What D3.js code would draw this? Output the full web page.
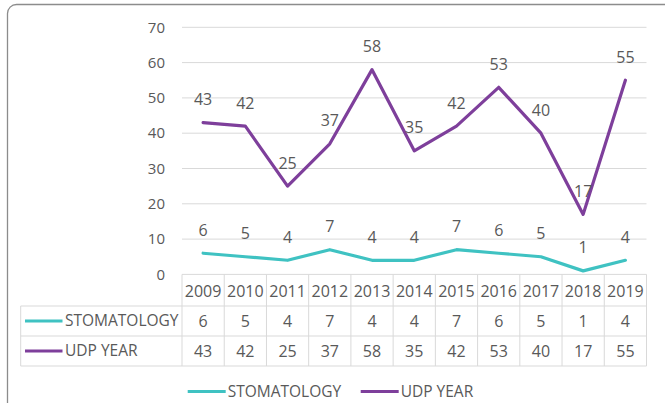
<!DOCTYPE html>
<html>
<head>
<meta charset="utf-8">
<script src="https://cdn.jsdelivr.net/npm/d3@7"></script>
<style>
  body { margin: 0; background: #fff; }
  svg text { font-family: "Open Sans", sans-serif; fill: #595959; }
</style>
</head>
<body>
<div id="vis"></div>
<script>
// chart data
var years = ["2009", "2010", "2011", "2012", "2013", "2014", "2015", "2016", "2017", "2018", "2019"];
var stomatology = [6, 5, 4, 7, 4, 4, 7, 6, 5, 1, 4];
var udpYear = [43, 42, 25, 37, 58, 35, 42, 53, 40, 17, 55];
var yTicks = [0, 10, 20, 30, 40, 50, 60, 70];
var seriesNames = ["STOMATOLOGY", "UDP YEAR"];

const COLOR_STOMA = "#3fc2c2";
const COLOR_UDP = "#7e3f9b";
const GRID = "#d9d9d9";

var W = 665, H = 403;
var svg = d3.select("#vis").append("svg").attr("width", W).attr("height", H);

// outer frame of the chart area
svg.append("rect")
  .attr("x", 7.5).attr("y", 4.5)
  .attr("width", 720).attr("height", 460)
  .attr("rx", 9).attr("ry", 9)
  .attr("fill", "none").attr("stroke", "#8c8c8c").attr("stroke-width", 1.3);

var plotLeft = 182, plotRight = 646.5, plotTop = 27.3, plotBottom = 274.4;

var x = d3.scaleBand().domain(years).range([plotLeft, plotRight]);
var y = d3.scaleLinear().domain([0, 70]).range([plotBottom, plotTop]);

// gridlines
svg.append("g").selectAll("line").data(yTicks.filter(function(d){ return d > 0; }))
  .enter().append("line")
  .attr("x1", plotLeft).attr("x2", plotRight)
  .attr("y1", function(d){ return y(d); }).attr("y2", function(d){ return y(d); })
  .attr("stroke", GRID).attr("stroke-width", 1);

// y axis labels
svg.append("g").selectAll("text").data(yTicks)
  .enter().append("text")
  .attr("x", 165).attr("y", function(d){ return y(d); })
  .attr("dy", "0.35em")
  .attr("text-anchor", "end")
  .style("font-size", "15px")
  .text(function(d){ return d; });

// lines
var series = [
  { name: seriesNames[0], values: stomatology, color: COLOR_STOMA },
  { name: seriesNames[1], values: udpYear, color: COLOR_UDP }
];
var line = d3.line()
  .x(function(d, i){ return x(years[i]) + x.bandwidth() / 2; })
  .y(function(d){ return y(d); });

series.forEach(function(s){
  svg.append("path").datum(s.values)
    .attr("d", line)
    .attr("fill", "none")
    .attr("stroke", s.color)
    .attr("stroke-width", 3.2)
    .attr("stroke-linejoin", "round")
    .attr("stroke-linecap", "round");
  svg.append("g").selectAll("text").data(s.values)
    .enter().append("text")
    .attr("x", function(d, i){ return x(years[i]) + x.bandwidth() / 2; })
    .attr("y", function(d){ return y(d) - 23; })
    .attr("dy", "0.35em")
    .attr("text-anchor", "middle")
    .style("font-size", "16px")
    .text(function(d){ return d; });
});

// data table
var tableLeft = 20.7;
var rowY = [274.4, 306, 336, 366];
var tg = svg.append("g");
// horizontal rules
tg.append("line").attr("x1", plotLeft).attr("x2", plotRight).attr("y1", rowY[0]).attr("y2", rowY[0])
  .attr("stroke", GRID);
[1, 2, 3].forEach(function(r){
  tg.append("line").attr("x1", tableLeft).attr("x2", plotRight).attr("y1", rowY[r]).attr("y2", rowY[r])
    .attr("stroke", GRID);
});
// vertical rules
tg.append("line").attr("x1", tableLeft).attr("x2", tableLeft).attr("y1", rowY[1]).attr("y2", rowY[3])
  .attr("stroke", GRID);
years.forEach(function(yr){
  tg.append("line").attr("x1", x(yr)).attr("x2", x(yr)).attr("y1", rowY[0]).attr("y2", rowY[3])
    .attr("stroke", GRID);
});
tg.append("line").attr("x1", plotRight).attr("x2", plotRight).attr("y1", rowY[0]).attr("y2", rowY[3])
  .attr("stroke", GRID);

// header row: years
tg.selectAll("text.year").data(years)
  .enter().append("text").attr("class", "year")
  .attr("x", function(d){ return x(d) + x.bandwidth() / 2; })
  .attr("y", (rowY[0] + rowY[1]) / 2 + 1)
  .attr("dy", "0.35em")
  .attr("text-anchor", "middle")
  .style("font-size", "16px")
  .text(function(d){ return d; });

// value rows with legend keys
series.forEach(function(s, r){
  var cy = (rowY[r + 1] + rowY[r + 2]) / 2;
  tg.append("line").attr("x1", 25).attr("x2", 62.5).attr("y1", cy).attr("y2", cy)
    .attr("stroke", s.color).attr("stroke-width", 3);
  tg.append("text").attr("x", 65).attr("y", cy).attr("dy", "0.35em")
    .style("font-size", "15.5px").text(s.name);
  tg.append("g").selectAll("text").data(s.values)
    .enter().append("text")
    .attr("x", function(d, i){ return x(years[i]) + x.bandwidth() / 2; })
    .attr("y", cy)
    .attr("dy", "0.35em")
    .attr("text-anchor", "middle")
    .style("font-size", "16px")
    .text(function(d){ return d; });
});

// bottom legend
var legendY = 391.5;
var legendX = [187.7, 360.7];
series.forEach(function(s, i){
  svg.append("line").attr("x1", legendX[i]).attr("x2", legendX[i] + 38)
    .attr("y1", legendY).attr("y2", legendY)
    .attr("stroke", s.color).attr("stroke-width", 3);
  svg.append("text").attr("x", legendX[i] + 40).attr("y", legendY).attr("dy", "0.35em")
    .style("font-size", "15.5px").text(s.name);
});
</script>
</body>
</html>
